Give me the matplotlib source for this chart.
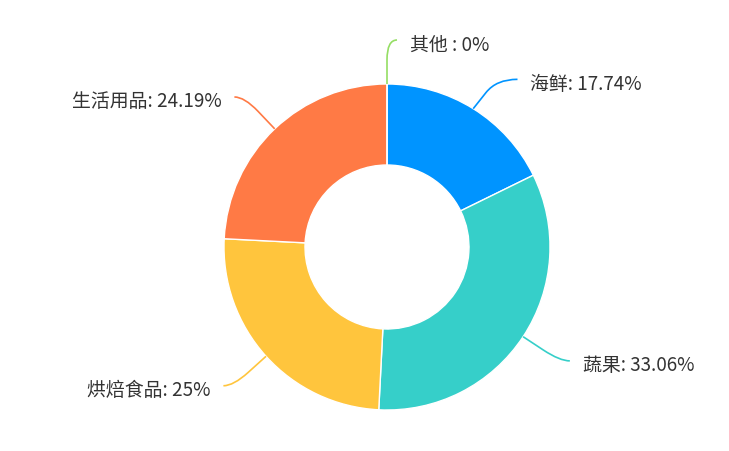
import numpy as np
import matplotlib
matplotlib.use("Agg")
import matplotlib.pyplot as plt
from matplotlib.path import Path
from matplotlib.patches import PathPatch

plt.rcParams['font.family'] = ['Noto Sans CJK SC', 'DejaVu Sans']

# data, clockwise from 12 o'clock
labels = ['海鲜', '蔬果', '烘焙食品', '生活用品', '其他']
values = [17.74, 33.06, 25, 24.19, 0]
texts = ['海鲜: 17.74%', '蔬果: 33.06%', '烘焙食品: 25%', '生活用品: 24.19%', '其他 : 0%']
colors = ['#0094ff', '#36cfc9', '#ffc53d', '#ff7a45', '#95de64']

W, H = 729, 451
fig = plt.figure(figsize=(W / 100, H / 100), dpi=100)
ax = fig.add_axes([0, 0, 1, 1])
ax.set_aspect('equal')
ax.axis('off')

cx, cy = 387, H - 247
r_out, r_in = 163, 82

ax.pie(values, colors=colors, startangle=90, counterclock=False,
       radius=r_out, center=(cx, cy),
       wedgeprops=dict(width=r_out - r_in, edgecolor='white', linewidth=1))
ax.set_xlim(0, W)
ax.set_ylim(0, H)

# label lines (echarts style: radial part, bend, short horizontal part)
len1, len2 = 44, 10
# the label layout pushed the 海鲜 label down a bit
nudge = [(11, -8), (0, 0), (0, 0), (0, 0), (0, 0)]
total = sum(values)
cum = np.cumsum([0] + values)
for i, lab in enumerate(labels):
    mid = (cum[i] + values[i] / 2) / total * 2 * np.pi
    sx, sy = np.sin(mid), np.cos(mid)
    side = 1 if sx >= -1e-6 else -1
    dx, dy = nudge[i]
    p1 = (cx + r_out * sx, cy + r_out * sy)
    p2 = (cx + (r_out + len1) * sx, cy + (r_out + len1) * sy + dy)
    p3 = (p2[0] + side * (len2 + dx), p2[1])
    pm = (p1[0] + 0.55 * (p2[0] - p1[0]), p1[1] + 0.55 * (p2[1] - p1[1]))
    path = Path([p1, pm, p2, p3], [Path.MOVETO, Path.LINETO, Path.CURVE3, Path.CURVE3])
    ax.add_patch(PathPatch(path, fill=False, edgecolor=colors[i], linewidth=1.2))
    ax.text(p3[0] + side * 13, p3[1] - 5, texts[i], fontsize=13.6, color='#333333',
            ha='left' if side > 0 else 'right', va='center')

fig.savefig('out.png', dpi=100, facecolor='white')
